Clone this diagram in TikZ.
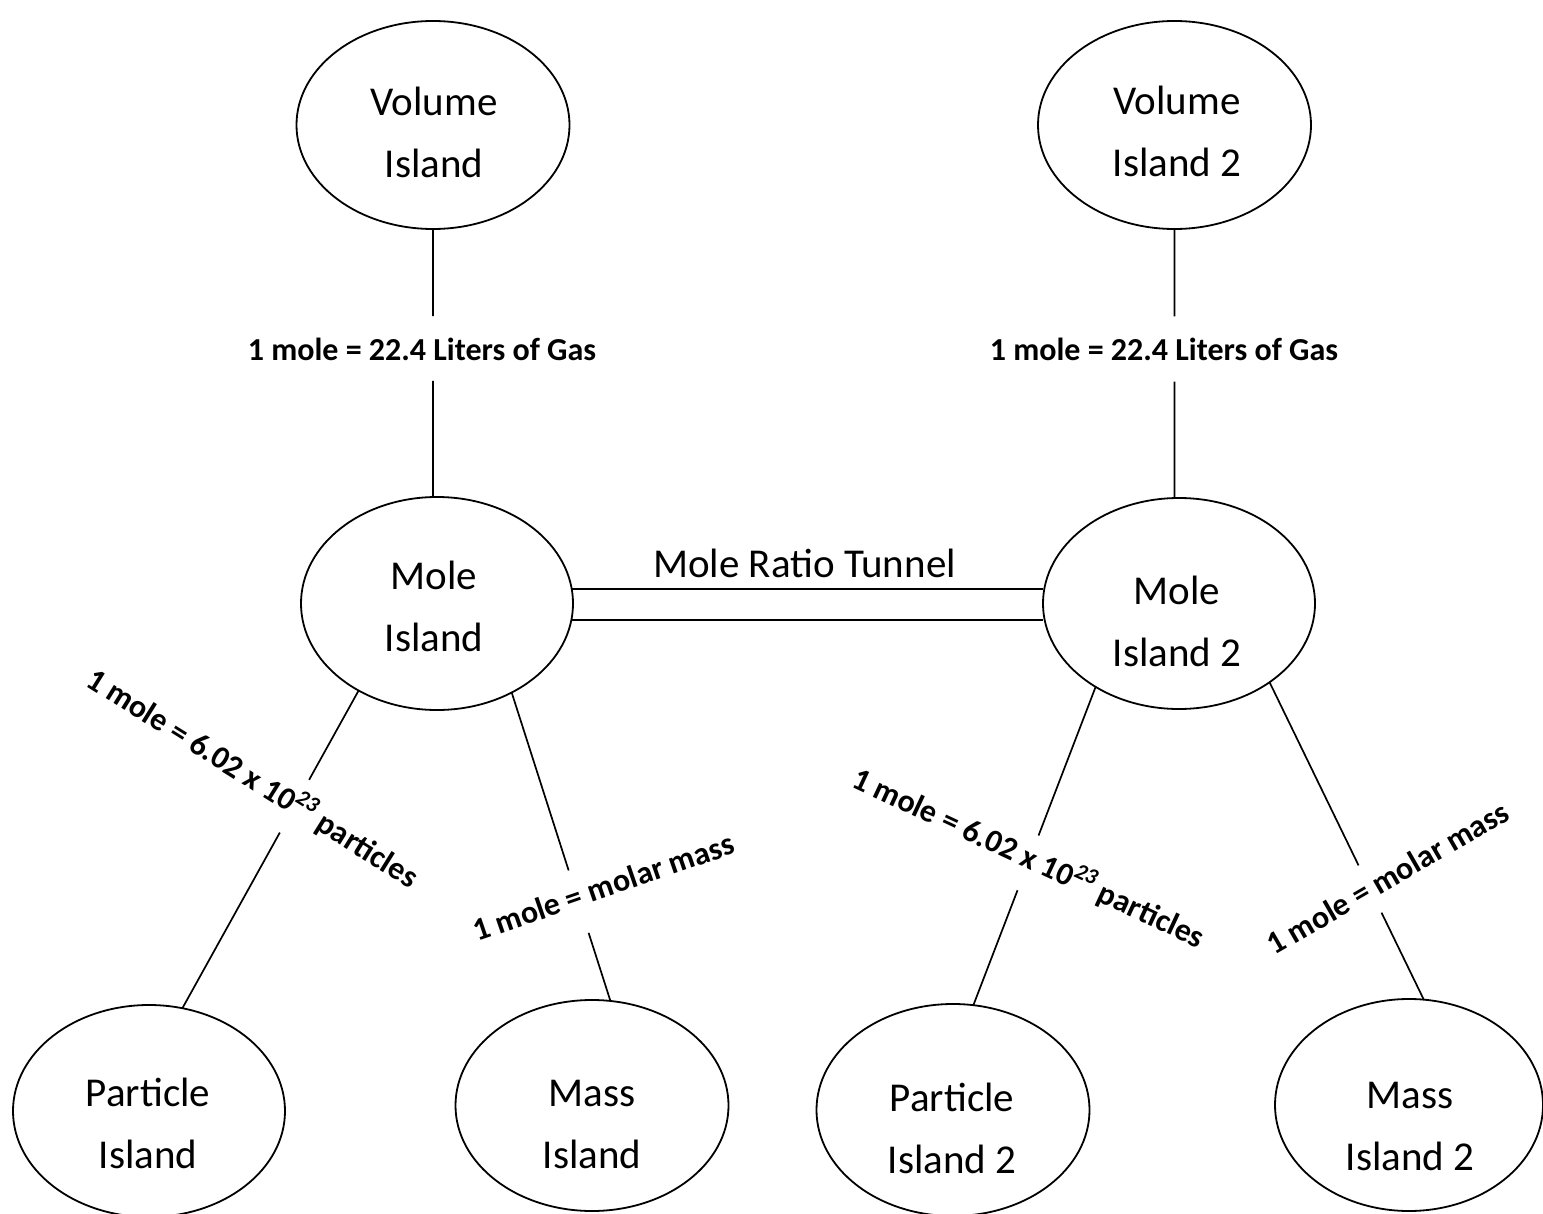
\documentclass[tikz,border=0pt]{standalone}
\usepackage{fontspec}
\setmainfont{Carlito}
\usetikzlibrary{shapes.geometric,calc}
\begin{document}
\begin{tikzpicture}[x=0.5pt,y=-0.5pt,
  isle/.style={draw, ellipse, line width=0.9pt, inner sep=0pt, outer sep=0pt},
  isletext/.style={align=center, font=\fontsize{20.5}{31}\selectfont, inner sep=0pt},
  conn/.style={line width=0.85pt},
  lbl/.style={font=\fontsize{16}{19}\selectfont\bfseries, inner sep=0pt}
]
\useasboundingbox (0,0) rectangle (1543,1214);

% islands
\node[isle, minimum width=136.5pt, minimum height=104pt] (vol)   at (433,125) {};
\node[isle, minimum width=136.5pt, minimum height=104pt] (vol2)  at (1174.5,125) {};
\node[isle, minimum width=136pt,   minimum height=106.5pt] (mole)  at (437,603.5) {};
\node[isle, minimum width=136pt,   minimum height=105.5pt] (mole2) at (1179,603.5) {};
\node[isle, minimum width=136pt,   minimum height=106pt] (part)  at (149,1111) {};
\node[isle, minimum width=136.5pt, minimum height=105.5pt] (mass)  at (592,1105.5) {};
\node[isle, minimum width=136.5pt, minimum height=106pt] (part2) at (953,1110) {};
\node[isle, minimum width=134pt,   minimum height=106pt] (mass2) at (1409,1105) {};

% island texts
\node[isletext] (volt)   at (434,132.5)  {Volume\\Island};
\node[isletext] (vol2t)  at (1177,131.5) {Volume\\Island 2};
\node[isletext] (molet)  at (434,606.5)  {Mole\\Island};
\node[isletext] (mole2t) at (1177,621.5) {Mole\\Island 2};
\node[isletext] (partt)  at (148,1123.5) {Particle\\Island};
\node[isletext] (masst)  at (592,1124.8) {Mass\\Island};
\node[isletext] (part2t) at (952,1128.5) {Particle\\Island 2};
\node[isletext] (mass2t) at (1410,1126.8) {Mass\\Island 2};

% tunnel
\node[isletext, anchor=base] (tunnel) at (804.5,577) {Mole Ratio Tunnel};
\draw[conn] (mole.6.1) -- (mole.6.1 -| mole2.west);
\draw[conn] (mole.-7.9) -- (mole.-7.9 -| mole2.west);

% vertical connectors
\coordinate (v1a) at (vol.south);
\coordinate (v1b) at (vol.south |- mole.north);
\draw[conn] (v1a) -- ($(v1a)!0.325!(v1b)$) ($(v1a)!0.567!(v1b)$) -- (v1b);
\coordinate (v2a) at (vol2.south);
\coordinate (v2b) at (vol2.south |- mole2.north);
\draw[conn] (v2a) -- ($(v2a)!0.325!(v2b)$) ($(v2a)!0.567!(v2b)$) -- (v2b);

% slanted connectors
\coordinate (p1a) at (mole.228.25);
\coordinate (p1b) at (part.72.7);
\draw[conn] (p1a) -- ($(p1a)!0.281!(p1b)$) ($(p1a)!0.447!(p1b)$) -- (p1b);

\coordinate (m1a) at (mole.-50);
\coordinate (m1b) at (mass.80.3);
\draw[conn] (m1a) -- ($(m1a)!0.577!(m1b)$) ($(m1a)!0.779!(m1b)$) -- (m1b);

\coordinate (p2a) at (mole2.225.5);
\coordinate (p2b) at (part2.79.2);
\draw[conn] (p2a) -- ($(p2a)!0.467!(p2b)$) ($(p2a)!0.639!(p2b)$) -- (p2b);

\coordinate (m2a) at (mole2.-41.8);
\coordinate (m2b) at (mass2.82.9);
\draw[conn] (m2a) -- ($(m2a)!0.577!(m2b)$) ($(m2a)!0.726!(m2b)$) -- (m2b);

% labels
\node[lbl, anchor=base] (lv1) at (422,361) {1 mole = 22.4 Liters of Gas};
\node[lbl, anchor=base] (lv2) at (1164,361) {1 mole = 22.4 Liters of Gas};
\node[lbl, anchor=base west, rotate=-32] (lp1) at (84,685) {1 mole = 6.02 x 10\textsuperscript{\textit{23}} particles};
\node[lbl, anchor=base west, rotate=19] (lm1) at (477,942) {1 mole = molar mass};
\node[lbl, anchor=base west, rotate=-25] (lp2) at (850,786) {1 mole = 6.02 x 10\textsuperscript{\textit{23}} particles};
\node[lbl, anchor=base west, rotate=30] (lm2) at (1274,956) {1 mole = molar mass};
\end{tikzpicture}
\end{document}
